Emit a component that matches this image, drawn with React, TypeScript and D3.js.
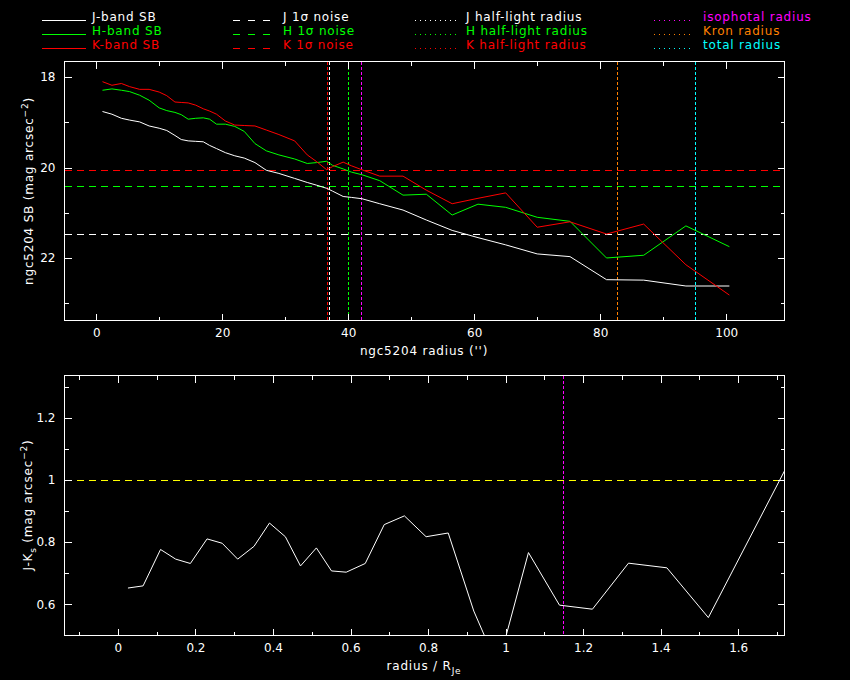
import { useEffect, useRef } from 'react';
import * as d3 from 'd3';

// radius (arcsec) shared by the three surface-brightness profiles
const radius = [
  1, 2.5, 4, 5.3, 6.9, 8.4, 10, 11.2, 12.5, 13.5, 14.6, 15.8, 17, 18, 19.1, 20.5, 22, 23.5, 25.2, 27,
  29, 31.5, 33.5, 35, 36.6, 37.5, 39.2, 40.5, 42.2, 45, 48.7, 52.4, 56.5, 60.6, 65, 70, 75.2, 81, 86.9,
  93.6, 100.5,
];
const jSB = [
  18.76, 18.82, 18.91, 18.95, 18.99, 19.08, 19.13, 19.18, 19.29, 19.38, 19.41, 19.42, 19.43, 19.51,
  19.58, 19.67, 19.74, 19.79, 19.89, 20.06, 20.13, 20.24, 20.33, 20.39, 20.46, 20.52, 20.64, 20.66,
  20.69, 20.8, 20.94, 21.16, 21.39, 21.55, 21.71, 21.91, 21.97, 22.48, 22.49, 22.62, 22.62,
];
const hSB = [
  18.29, 18.26, 18.29, 18.32, 18.4, 18.51, 18.68, 18.74, 18.78, 18.83, 18.93, 18.91, 18.9, 18.93,
  19.04, 19.04, 19.09, 19.2, 19.47, 19.63, 19.72, 19.81, 19.91, 19.89, 19.86, 19.95, 20.03, 20.1,
  20.16, 20.29, 20.61, 20.59, 21.05, 20.81, 20.88, 21.1, 21.19, 22.0, 21.94, 21.29, 21.75,
];
const kSB = [
  18.1, 18.18, 18.14, 18.21, 18.27, 18.27, 18.33, 18.41, 18.55, 18.56, 18.57, 18.62, 18.7, 18.75,
  18.82, 18.97, 19.06, 19.07, 19.08, 19.17, 19.27, 19.41, 19.72, 19.87, 20.05, 19.98, 19.88, 19.96,
  20.05, 20.19, 20.19, 20.5, 20.8, 20.68, 20.56, 21.32, 21.2, 21.47, 21.25, 22.15, 22.82,
];

// 1 sigma noise levels (mag arcsec^-2)
const noiseLevels = [
  { band: 'J', value: 21.46, color: '#ffffff' },
  { band: 'H', value: 20.4, color: '#00ff00' },
  { band: 'K', value: 20.06, color: '#ff0000' },
];

// characteristic radii (arcsec)
const radii = [
  { name: 'K half-light', value: 36.7, color: '#ff0000' },
  { name: 'J half-light', value: 37.0, color: '#ffffff' },
  { name: 'H half-light', value: 40.0, color: '#00ff00' },
  { name: 'isophotal', value: 42.1, color: '#ff00ff' },
  { name: 'Kron', value: 82.7, color: '#ff8000' },
  { name: 'total', value: 95.0, color: '#00ffff' },
];

// J-K colour profile against radius / R_Je
const jkRadius = [
  0.026, 0.065, 0.11, 0.149, 0.187, 0.23, 0.269, 0.309, 0.351, 0.391, 0.432, 0.471, 0.512, 0.551,
  0.589, 0.638, 0.687, 0.739, 0.795, 0.852, 0.918, 0.98, 1.059, 1.139, 1.224, 1.317, 1.416, 1.523, 1.72,
];
const jkColor = [
  0.652, 0.659, 0.776, 0.745, 0.731, 0.81, 0.796, 0.745, 0.786, 0.861, 0.817, 0.723, 0.781, 0.707,
  0.703, 0.731, 0.856, 0.884, 0.817, 0.829, 0.578, 0.4, 0.766, 0.597, 0.584, 0.732, 0.717, 0.557, 1.03,
];
const jkReference = 1;
const jkIsophotal = 1.148;

// tick values
const topXMajor = [0, 20, 40, 60, 80, 100];
const topXMinor = [10, 30, 50, 70, 90];
const topYMajor = [18, 20, 22];
const topYMinor = [19, 21, 23];
const botXMajor = [0, 0.2, 0.4, 0.6, 0.8, 1, 1.2, 1.4, 1.6];
const botXMinor = [-0.1, 0.1, 0.3, 0.5, 0.7, 0.9, 1.1, 1.3, 1.5, 1.7];
const botYMajor = [0.6, 0.8, 1, 1.2];
const botYMinor = [0.7, 0.9, 1.1, 1.3];

const FONT = 'DejaVu Sans, sans-serif';
const label = (d: any) => String(d);
const blank = () => '';

function drawFrame(
  g: any,
  x: any,
  y: any,
  xMajor: number[],
  xMinor: number[],
  yMajor: number[],
  yMinor: number[]
) {
  const [x0, x1] = x.range();
  const [y0, y1] = y.range();
  const top = Math.min(y0, y1);
  const bottom = Math.max(y0, y1);

  const axes = [
    { ax: d3.axisBottom(x).tickValues(xMajor).tickSize(-7).tickPadding(8).tickFormat(label), t: `translate(0,${bottom})` },
    { ax: d3.axisBottom(x).tickValues(xMinor).tickSize(-4).tickFormat(blank), t: `translate(0,${bottom})` },
    { ax: d3.axisTop(x).tickValues(xMajor).tickSize(-7).tickFormat(blank), t: `translate(0,${top})` },
    { ax: d3.axisTop(x).tickValues(xMinor).tickSize(-4).tickFormat(blank), t: `translate(0,${top})` },
    { ax: d3.axisLeft(y).tickValues(yMajor).tickSize(-7).tickPadding(9).tickFormat(label), t: `translate(${x0},0)` },
    { ax: d3.axisLeft(y).tickValues(yMinor).tickSize(-4).tickFormat(blank), t: `translate(${x0},0)` },
    { ax: d3.axisRight(y).tickValues(yMajor).tickSize(-7).tickFormat(blank), t: `translate(${x1},0)` },
    { ax: d3.axisRight(y).tickValues(yMinor).tickSize(-4).tickFormat(blank), t: `translate(${x1},0)` },
  ];
  axes.forEach(({ ax, t }) => {
    const a = g.append('g').attr('transform', t).call(ax);
    a.select('.domain').remove();
    a.selectAll('line').attr('stroke', '#ffffff').attr('shape-rendering', 'crispEdges');
    a.selectAll('text').attr('fill', '#ffffff').attr('font-size', 12).attr('font-family', FONT);
  });

  g.append('rect')
    .attr('x', x0)
    .attr('y', top)
    .attr('width', x1 - x0)
    .attr('height', bottom - top)
    .attr('fill', 'none')
    .attr('stroke', '#ffffff')
    .attr('shape-rendering', 'crispEdges');
}

export default function App() {
  const svgRef = useRef<SVGSVGElement>(null);

  useEffect(() => {
    document.body.style.margin = '0';
    document.body.style.background = '#000000';
    if (!svgRef.current) return;

    const svg = d3.select(svgRef.current);
    svg.selectAll('*').remove();

    svg.append('rect').attr('width', 850).attr('height', 680).attr('fill', '#000000');

    // ---- legend ----
    const legend = svg.append('g').attr('font-family', FONT).attr('font-size', 12).attr('letter-spacing', 0.8);
    const rows = [20.5, 34.5, 48.5];
    const legendCols = [
      {
        x0: 42, x1: 86, tx: 92, dash: null,
        items: [
          { label: 'J-band SB', color: '#ffffff' },
          { label: 'H-band SB', color: '#00ff00' },
          { label: 'K-band SB', color: '#ff0000' },
        ],
      },
      {
        x0: 233, x1: 277, tx: 283, dash: '7,8',
        items: [
          { label: 'J 1σ noise', color: '#ffffff' },
          { label: 'H 1σ noise', color: '#00ff00' },
          { label: 'K 1σ noise', color: '#ff0000' },
        ],
      },
      {
        x0: 415, x1: 457, tx: 466, dash: '1,4',
        items: [
          { label: 'J half-light radius', color: '#ffffff' },
          { label: 'H half-light radius', color: '#00ff00' },
          { label: 'K half-light radius', color: '#ff0000' },
        ],
      },
      {
        x0: 654, x1: 694, tx: 703, dash: '1,4',
        items: [
          { label: 'isophotal radius', color: '#ff00ff' },
          { label: 'Kron radius', color: '#ff8000' },
          { label: 'total radius', color: '#00ffff' },
        ],
      },
    ];
    legendCols.forEach((col) => {
      col.items.forEach((it, i) => {
        const ln = legend
          .append('line')
          .attr('x1', col.x0)
          .attr('x2', col.x1)
          .attr('y1', rows[i])
          .attr('y2', rows[i])
          .attr('stroke', it.color)
          .attr('shape-rendering', 'crispEdges');
        if (col.dash) ln.attr('stroke-dasharray', col.dash);
        legend.append('text').attr('x', col.tx).attr('y', rows[i] + 0.5).attr('fill', it.color).text(it.label);
      });
    });

    // ---- top panel: surface brightness ----
    const x = d3.scaleLinear().domain([-5.03, 109.25]).range([64.5, 784.5]);
    const y = d3.scaleLinear().domain([17.654, 23.383]).range([61.5, 320.5]);

    const defs = svg.append('defs');
    defs.append('clipPath').attr('id', 'clipTop')
      .append('rect').attr('x', 64.5).attr('y', 61.5).attr('width', 720).attr('height', 259);
    defs.append('clipPath').attr('id', 'clipBot')
      .append('rect').attr('x', 64.5).attr('y', 375.5).attr('width', 720).attr('height', 260);

    const top = svg.append('g');
    const topData = top.append('g').attr('clip-path', 'url(#clipTop)');

    noiseLevels.forEach((n) => {
      topData.append('line')
        .attr('x1', x.range()[0]).attr('x2', x.range()[1])
        .attr('y1', Math.round(y(n.value)) + 0.5).attr('y2', Math.round(y(n.value)) + 0.5)
        .attr('stroke', n.color).attr('stroke-dasharray', '7,5')
        .attr('shape-rendering', 'crispEdges');
    });

    radii.forEach((r) => {
      topData.append('line')
        .attr('x1', Math.round(x(r.value)) + 0.5).attr('x2', Math.round(x(r.value)) + 0.5)
        .attr('y1', y.range()[0]).attr('y2', y.range()[1])
        .attr('stroke', r.color).attr('stroke-dasharray', '3,2')
        .attr('shape-rendering', 'crispEdges');
    });

    const profiles = [
      { values: jSB, color: '#ffffff' },
      { values: hSB, color: '#00ff00' },
      { values: kSB, color: '#ff0000' },
    ];
    profiles.forEach((p) => {
      const line = d3.line<number>().x((_, i) => x(radius[i])).y((d) => y(d));
      topData.append('path')
        .attr('d', line(p.values))
        .attr('fill', 'none')
        .attr('stroke', p.color)
        .attr('stroke-width', 1);
    });

    drawFrame(top, x, y, topXMajor, topXMinor, topYMajor, topYMinor);

    top.append('text')
      .attr('x', 424).attr('y', 355)
      .attr('text-anchor', 'middle').attr('fill', '#ffffff')
      .attr('font-family', FONT).attr('font-size', 12).attr('letter-spacing', 0.8)
      .text("ngc5204 radius ('')");

    const topYLabel = top.append('text')
      .attr('transform', 'translate(33,191) rotate(-90)')
      .attr('text-anchor', 'middle').attr('fill', '#ffffff')
      .attr('font-family', FONT).attr('font-size', 12).attr('letter-spacing', 0.8);
    topYLabel.append('tspan').text('ngc5204 SB (mag arcsec');
    topYLabel.append('tspan').attr('dy', -5).attr('font-size', 9).text('−2');
    topYLabel.append('tspan').attr('dy', 5).text(')');

    // ---- bottom panel: J-K colour ----
    const xb = d3.scaleLinear().domain([-0.1377, 1.7194]).range([64.5, 784.5]);
    const yb = d3.scaleLinear().domain([0.4994, 1.3354]).range([635.5, 375.5]);

    const bot = svg.append('g');
    const botData = bot.append('g').attr('clip-path', 'url(#clipBot)');

    botData.append('line')
      .attr('x1', xb.range()[0]).attr('x2', xb.range()[1])
      .attr('y1', Math.round(yb(jkReference)) + 0.5).attr('y2', Math.round(yb(jkReference)) + 0.5)
      .attr('stroke', '#ffff00').attr('stroke-dasharray', '7,5')
      .attr('shape-rendering', 'crispEdges');

    botData.append('line')
      .attr('x1', Math.round(xb(jkIsophotal)) + 0.5).attr('x2', Math.round(xb(jkIsophotal)) + 0.5)
      .attr('y1', yb.range()[1]).attr('y2', yb.range()[0])
      .attr('stroke', '#ff00ff').attr('stroke-dasharray', '3,2')
      .attr('shape-rendering', 'crispEdges');

    const jkLine = d3.line<number>().x((_, i) => xb(jkRadius[i])).y((d) => yb(d));
    botData.append('path')
      .attr('d', jkLine(jkColor))
      .attr('fill', 'none')
      .attr('stroke', '#ffffff')
      .attr('stroke-width', 1);

    drawFrame(bot, xb, yb, botXMajor, botXMinor, botYMajor, botYMinor);

    const botXLabel = bot.append('text')
      .attr('x', 424).attr('y', 670)
      .attr('text-anchor', 'middle').attr('fill', '#ffffff')
      .attr('font-family', FONT).attr('font-size', 12).attr('letter-spacing', 0.8);
    botXLabel.append('tspan').text('radius / R');
    botXLabel.append('tspan').attr('dy', 4).attr('font-size', 9).text('Je');

    const botYLabel = bot.append('text')
      .attr('transform', 'translate(32,505) rotate(-90)')
      .attr('text-anchor', 'middle').attr('fill', '#ffffff')
      .attr('font-family', FONT).attr('font-size', 12).attr('letter-spacing', 0.8);
    botYLabel.append('tspan').text('J-K');
    botYLabel.append('tspan').attr('dy', 4).attr('font-size', 9).text('s');
    botYLabel.append('tspan').attr('dy', -4).text(' (mag arcsec');
    botYLabel.append('tspan').attr('dy', -5).attr('font-size', 9).text('−2');
    botYLabel.append('tspan').attr('dy', 5).text(')');
  }, []);

  return <svg ref={svgRef} width={850} height={680} style={{ display: 'block' }} />;
}
